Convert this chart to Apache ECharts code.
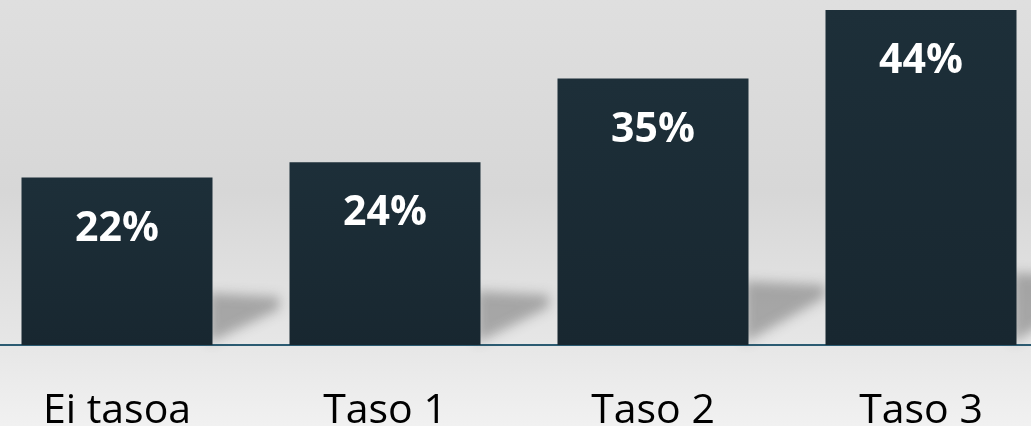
<!DOCTYPE html>
<html>
<head>
<meta charset="utf-8">
<script src="https://cdn.jsdelivr.net/npm/echarts@6/dist/echarts.min.js"></script>
<style>
  html, body { margin: 0; padding: 0; overflow: hidden; }
  body { width: 1031px; height: 426px; }
  /* kuvaaja hieman leveämpi, jotta pylväsvälit osuvat kohdalleen */
  #chart { width: 1072px; height: 426px; margin-left: -17.5px; }
</style>
</head>
<body>
<div id="chart"></div>
<script>
  // tasot ja osuudet (%)
  const categories = ['Ei tasoa', 'Taso 1', 'Taso 2', 'Taso 3'];
  const shares = [22, 24, 35, 44];

  const chart = echarts.init(document.getElementById('chart'));

  // varjo pylvään oikealle puolelle, lasketaan akselin koordinaateista
  function renderShadow(params, api) {
    const i = api.value(0);
    const base = api.coord([i, 0]);
    const top = api.coord([i, api.value(1)]);
    const halfBar = 95.5;
    const h = base[1] - top[1];
    const xr = base[0] + halfBar;
    const y0 = base[1];
    const s = 32 + 0.12 * h;
    const len = 50 + 0.1 * h;
    const shift = 3000; // muoto piirretään ruudun ulkopuolelle, näkyviin jää vain sumea varjo
    return {
      type: 'polygon',
      shape: {
        points: [
          [xr - shift - 4, y0 - 2],
          [xr - shift - 4, y0 - s],
          [xr - shift + len, y0 - s + 4],
          [xr - shift + len, y0 - s + 16]
        ]
      },
      style: {
        fill: '#000000',
        shadowBlur: 12,
        shadowOffsetX: shift,
        shadowColor: 'rgba(90,90,90,0.45)'
      }
    };
  }

  chart.setOption({
    backgroundColor: {
      type: 'linear', x: 0, y: 0, x2: 0, y2: 1,
      colorStops: [
        { offset: 0, color: '#dfdfdf' },
        { offset: 0.45, color: '#d7d7d7' },
        { offset: 0.8, color: '#e6e6e6' },
        { offset: 1, color: '#f1f1f1' }
      ]
    },
    animation: false,
    grid: {
      left: 0,
      right: 0,
      top: 0,
      bottom: 81,
      outerBoundsMode: 'none'
    },
    xAxis: {
      type: 'category',
      data: categories,
      axisTick: { show: false },
      axisLine: {
        show: true,
        lineStyle: { color: '#2b5b72', width: 2 }
      },
      axisLabel: {
        color: '#000000',
        fontFamily: '"Open Sans", sans-serif',
        fontSize: 41,
        lineHeight: 44,
        margin: 44,
        interval: 0
      }
    },
    yAxis: {
      type: 'value',
      min: 0,
      max: 45.3,
      show: false,
      splitLine: { show: false }
    },
    series: [
      {
        type: 'custom',
        renderItem: renderShadow,
        data: shares.map((v, i) => [i, v]),
        z: 1,
        silent: true
      },
      {
        type: 'bar',
        data: shares,
        barWidth: 191,
        z: 2,
        itemStyle: {
          color: {
            type: 'linear', x: 0, y: 0, x2: 0, y2: 1,
            colorStops: [
              { offset: 0, color: '#1d2f39' },
              { offset: 1, color: '#182730' }
            ]
          }
        },
        label: {
          show: true,
          position: 'insideTop',
          distance: 31,
          color: '#ffffff',
          fontFamily: '"Open Sans", sans-serif',
          fontWeight: 'bold',
          fontSize: 41,
          lineHeight: 41,
          formatter: '{c}%'
        }
      }
    ]
  });
</script>
</body>
</html>
